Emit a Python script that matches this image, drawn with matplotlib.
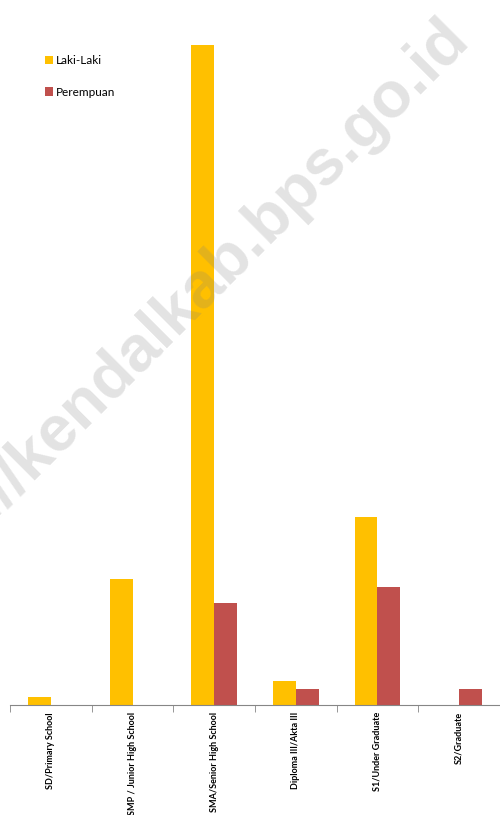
import matplotlib.pyplot as plt
import numpy as np

# data (jumlah per tingkat pendidikan)
kategori = ['SD/Primary School', 'SMP / Junior High School', 'SMA/Senior High School',
            'Diploma III/Akta III', 'S1/Under Graduate', 'S2/Graduate']
laki = [1, 16, 84, 3, 24, 0]
perempuan = [0, 0, 13, 2, 15, 2]

W, H = 500, 815
fig = plt.figure(figsize=(W/100, H/100), dpi=100)
ax = fig.add_axes([10/W, 1 - 705/H, 490/W, 691/H])

x = np.arange(len(kategori))
w = 0.28
b1 = ax.bar(x - w/2, laki, w, color='#ffc000', label='Laki-Laki')
b2 = ax.bar(x + w/2, perempuan, w, color='#c0504d', label='Perempuan')

ax.set_xlim(-0.5, len(kategori) - 0.5)
ax.set_ylim(0, 88)
for s in ['top', 'right', 'left']:
  ax.spines[s].set_visible(False)
ax.spines['bottom'].set_color('#868686')
ax.set_yticks([])
ax.set_xticks(x)
ax.set_xticklabels(kategori, rotation=90, fontsize=6.5, fontweight='bold',
                   fontfamily='Lato', va='top', ha='center')
ax.tick_params(axis='x', which='major', length=0, pad=5)
ax.set_xticks(np.arange(-0.5, len(kategori)), minor=True)
ax.tick_params(axis='x', which='minor', length=5, color='#868686', direction='out')

fig.legend(handles=[b1, b2], loc='upper left', bbox_to_anchor=(45/W, 1 - 55/H),
           frameon=False, prop={'family': 'Lato', 'size': 8.5},
           handlelength=0.7, handleheight=0.7, handletextpad=0.25,
           labelspacing=1.75, borderaxespad=0, borderpad=0)

# watermark
fig.text(471/W, 1 - 40/H, 'http://kendalkab.bps.go.id', rotation=45,
         rotation_mode='anchor', ha='right', va='baseline',
         fontsize=46.5, fontweight='bold', fontfamily='Liberation Sans',
         color='#808080', alpha=0.22, zorder=10)

fig.savefig('out.png', dpi=100)
